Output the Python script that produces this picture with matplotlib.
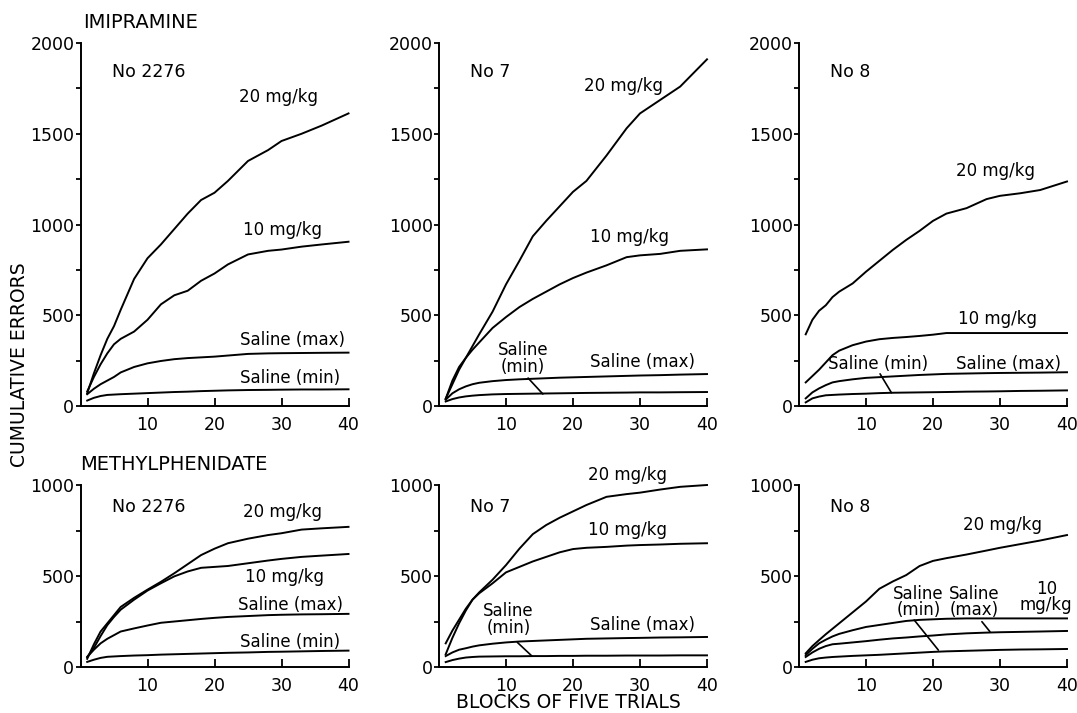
import matplotlib
matplotlib.use("Agg")
import matplotlib.pyplot as plt
from matplotlib.ticker import MultipleLocator

plt.rcParams['font.family'] = ['DejaVu Sans']

BLOCKS = [1, 2, 3, 4, 5, 6, 8, 10, 12, 14, 16, 18, 20, 22, 25, 28, 30, 33, 36, 40]

# ---------- IMIPRAMINE ----------
imi_2276_20 = [70, 180, 280, 370, 440, 530, 700, 814, 890, 975, 1060, 1135, 1175, 1240, 1350, 1410, 1460, 1500, 1545, 1612]
imi_2276_10 = [80, 160, 230, 290, 340, 370, 410, 475, 560, 610, 635, 690, 730, 780, 835, 855, 862, 878, 890, 905]
imi_2276_smax = [65, 95, 120, 140, 160, 185, 215, 235, 248, 258, 264, 268, 272, 278, 287, 290, 291, 292, 293, 294]
imi_2276_smin = [30, 45, 55, 61, 63, 65, 68, 71, 74, 77, 79, 82, 84, 86, 88, 89, 90, 91, 91, 92]

imi_7_20 = [40, 120, 200, 265, 330, 395, 520, 670, 800, 935, 1020, 1100, 1180, 1240, 1380, 1530, 1612, 1686, 1760, 1910]
imi_7_10 = [40, 140, 215, 265, 310, 350, 430, 490, 545, 590, 630, 670, 705, 735, 775, 820, 830, 838, 855, 863]
imi_7_smax = [35, 70, 92, 108, 120, 128, 137, 143, 147, 150, 153, 156, 158, 160, 163, 166, 168, 170, 173, 176]
imi_7_smin = [25, 38, 47, 53, 57, 60, 64, 66, 67, 68, 69, 70, 71, 72, 73, 74, 75, 75, 76, 77]

imi_8_20 = [395, 475, 525, 555, 600, 630, 675, 740, 800, 860, 915, 965, 1020, 1060, 1090, 1140, 1158, 1172, 1190, 1237]
imi_8_10 = [130, 165, 200, 240, 280, 305, 335, 355, 368, 375, 380, 386, 393, 402, 402, 402, 402, 402, 402, 402]
imi_8_smax = [42, 75, 97, 115, 130, 137, 147, 155, 159, 163, 167, 171, 174, 177, 179, 181, 182, 183, 184, 186]
imi_8_smin = [20, 42, 52, 59, 61, 63, 66, 68, 71, 73, 74, 75, 76, 77, 79, 80, 81, 83, 84, 86]

# ---------- METHYLPHENIDATE ----------
met_2276_20 = [45, 125, 195, 240, 285, 330, 380, 425, 468, 515, 565, 615, 650, 680, 705, 725, 735, 755, 762, 770]
met_2276_10 = [55, 105, 170, 230, 275, 315, 370, 420, 460, 498, 525, 545, 550, 555, 570, 585, 594, 605, 612, 621]
met_2276_smax = [55, 95, 130, 155, 175, 195, 212, 228, 243, 250, 257, 264, 270, 275, 280, 285, 287, 289, 290, 292]
met_2276_smin = [28, 40, 50, 56, 58, 60, 63, 65, 68, 70, 72, 74, 76, 78, 80, 83, 84, 86, 88, 90]

met_7_20 = [70, 160, 240, 310, 370, 410, 480, 560, 650, 730, 780, 820, 855, 890, 935, 950, 958, 975, 990, 1000]
met_7_10 = [130, 200, 260, 320, 370, 405, 460, 520, 550, 580, 605, 630, 648, 655, 660, 667, 670, 673, 677, 680]
met_7_smax = [60, 80, 95, 103, 112, 119, 128, 135, 140, 143, 146, 149, 152, 155, 157, 159, 160, 162, 163, 165]
met_7_smin = [27, 38, 46, 52, 55, 57, 58, 59, 59, 60, 60, 61, 61, 62, 62, 63, 63, 63, 64, 64]

met_8_20 = [75, 115, 148, 180, 210, 240, 300, 360, 430, 470, 505, 555, 583, 598, 618, 640, 655, 675, 695, 725]
met_8_10 = [65, 100, 130, 150, 168, 182, 202, 220, 231, 242, 253, 259, 262, 265, 267, 267, 267, 267, 267, 267]
met_8_smax = [55, 80, 100, 115, 125, 128, 135, 142, 150, 157, 162, 168, 173, 179, 185, 189, 191, 193, 195, 198]
met_8_smin = [28, 40, 48, 52, 55, 57, 61, 64, 67, 71, 75, 79, 83, 86, 89, 92, 94, 96, 97, 99]

ROW_TITLES = ["IMIPRAMINE", "METHYLPHENIDATE"]
ANIMALS = ["No 2276", "No 7", "No 8"]
X_TICKS = [10, 20, 30, 40]
Y_LABEL = "CUMULATIVE ERRORS"
X_LABEL = "BLOCKS OF FIVE TRIALS"

series = [
    [[imi_2276_20, imi_2276_10, imi_2276_smax, imi_2276_smin],
     [imi_7_20, imi_7_10, imi_7_smax, imi_7_smin],
     [imi_8_20, imi_8_10, imi_8_smax, imi_8_smin]],
    [[met_2276_20, met_2276_10, met_2276_smax, met_2276_smin],
     [met_7_20, met_7_10, met_7_smax, met_7_smin],
     [met_8_20, met_8_10, met_8_smax, met_8_smin]],
]

# curve labels: (text, x, y, ha)
labels = [
    [[("20 mg/kg", 29.6, 1702, "center"), ("10 mg/kg", 30.2, 970, "center"),
      ("Saline (max)", 31.6, 364, "center"), ("Saline (min)", 31.3, 154, "center")],
     [("20 mg/kg", 27.5, 1763, "center"), ("10 mg/kg", 28.5, 931, "center"),
      ("Saline\n(min)", 12.5, 262, "center"), ("Saline (max)", 30.3, 242, "center")],
     [("20 mg/kg", 29.4, 1293, "center"), ("10 mg/kg", 29.6, 477, "center"),
      ("Saline (min)", 11.8, 230, "center"), ("Saline (max)", 31.2, 230, "center")]],
    [[("20 mg/kg", 30.1, 849, "center"), ("10 mg/kg", 30.5, 496, "center"),
      ("Saline (max)", 31.4, 342, "center"), ("Saline (min)", 31.3, 138, "center")],
     [("20 mg/kg", 28.1, 1053, "center"), ("10 mg/kg", 28.1, 751, "center"),
      ("Saline\n(min)", 10.4, 262, "center"), ("Saline (max)", 30.3, 230, "center")],
     [("20 mg/kg", 30.3, 780, "center"), ("Saline\n(min)", 17.8, 357, "center"),
      ("Saline\n(max)", 26.2, 357, "center"), ("10\nmg/kg", 36.9, 385, "center")]],
]

# leader lines: ((x1, y1), (x2, y2))
leaders = [
    [[], [((13.3, 154), (15.5, 66))], [((12.1, 177), (13.8, 73))]],
    [[], [((11.7, 135), (13.9, 59))], [((17.2, 258), (20.8, 93)), ((27.3, 249), (28.5, 194))]],
]

W, H = 1077, 713
fig = plt.figure(figsize=(W / 100, H / 100), dpi=100)
fig.patch.set_facecolor("white")

col_left = [80.5, 439, 799]
row_zero = [406, 667]
row_height = [363, 182]
row_ymax = [2000, 1000]
ax_w = 268

for r in range(2):
    for c in range(3):
        ax = fig.add_axes([col_left[c] / W, (H - row_zero[r]) / H, ax_w / W, row_height[r] / H])
        for y in series[r][c]:
            ax.plot(BLOCKS, y, color="black", lw=1.4, clip_on=False, solid_joinstyle="round")
        ax.set_xlim(0, 40)
        ax.set_ylim(0, row_ymax[r])
        for s in ("top", "right"):
            ax.spines[s].set_visible(False)
        for s in ("left", "bottom"):
            ax.spines[s].set_linewidth(1.4)
        ax.set_xticks(X_TICKS)
        ax.yaxis.set_major_locator(MultipleLocator(500))
        ax.yaxis.set_minor_locator(MultipleLocator(250))
        ax.tick_params(axis="x", direction="in", length=6, width=1.3, labelsize=12.5, pad=7)
        ax.tick_params(axis="y", which="both", direction="out", length=3.5, width=1.3, labelsize=12.5, pad=1)
        ax.text(4.6 if c else 4.7, row_ymax[r] * 0.92 if r == 0 else row_ymax[r] * 0.88,
                ANIMALS[c], fontsize=12.5, ha="left", va="center")
        for (t, x, y, ha) in labels[r][c]:
            ax.text(x, y, t, fontsize=12, ha=ha, va="center", linespacing=0.9)
        for (p1, p2) in leaders[r][c]:
            ax.annotate("", xy=p2, xytext=p1,
                        arrowprops=dict(arrowstyle="-", lw=1.2, color="black",
                                        shrinkA=0, shrinkB=0))

fig.text(83 / W, 1 - 22 / H, ROW_TITLES[0], fontsize=14, ha="left", va="center")
fig.text(80 / W, 1 - 465 / H, ROW_TITLES[1], fontsize=14, ha="left", va="center")
fig.text(20 / W, 1 - 365 / H, Y_LABEL, fontsize=13.5, rotation=90, ha="center", va="center")
fig.text(568 / W, 1 - 703 / H, X_LABEL, fontsize=13.5, ha="center", va="center")

fig.savefig("out.png", dpi=100, facecolor="white")
